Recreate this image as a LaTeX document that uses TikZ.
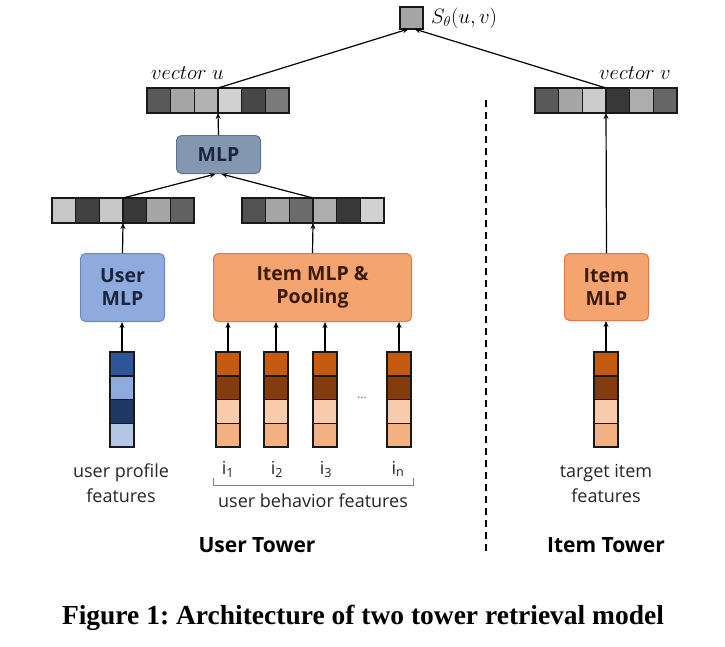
\documentclass[tikz,border=0pt]{standalone}
\usepackage[no-math]{fontspec}
\setmainfont{Open Sans}
\newfontfamily\capfont{Liberation Serif}
\usetikzlibrary{arrows.meta,calc}
\definecolor{ublue}{HTML}{8FAADC}
\definecolor{ubluedraw}{HTML}{6A88C6}
\definecolor{mlpfill}{HTML}{8497B0}
\definecolor{mlpdraw}{HTML}{62738C}
\definecolor{orfill}{HTML}{F4A46E}
\definecolor{ordraw}{HTML}{E4764A}
\definecolor{navytext}{HTML}{1B2440}
\definecolor{browntext}{HTML}{3A1A08}
\definecolor{cb1}{HTML}{2F5597}
\definecolor{cb2}{HTML}{8FAADC}
\definecolor{cb3}{HTML}{203864}
\definecolor{cb4}{HTML}{B4C7E7}
\definecolor{co1}{HTML}{C55A11}
\definecolor{co2}{HTML}{843C0C}
\definecolor{co3}{HTML}{F8CBAD}
\definecolor{co4}{HTML}{F4B183}
\definecolor{bracketc}{HTML}{D06A3A}
\newcommand{\vecrow}[4]{%
  \foreach \c [count=\i] in {#4} {
    \node[hcell, fill=\c, anchor=north west] (#1\i) at ({#2+(\i-1)*23.67},#3) {};
  }}
\newcommand{\veccol}[4]{%
  \foreach \c [count=\i] in {#4} {
    \node[vcell, fill=\c, anchor=north west] (#1\i) at (#2,{#3+(\i-1)*23.75}) {};
  }}
\tikzset{
  hcell/.style={draw=black!90, line width=1.5pt, minimum width=23.67pt, minimum height=25pt, inner sep=0pt, outer sep=0pt},
  vcell/.style={draw=black!90, line width=1.5pt, minimum width=24pt, minimum height=23.75pt, inner sep=0pt, outer sep=0pt},
  conn/.style={-{Stealth[length=6pt,width=5pt]}, line width=1.2pt, black},
  bluebox/.style={rounded corners=5pt, fill=ublue, draw=ubluedraw, line width=1pt, text=navytext, font=\fontsize{19.5}{23}\selectfont\bfseries, align=center, inner sep=0pt},
  mlpbox/.style={rounded corners=5pt, fill=mlpfill, draw=mlpdraw, line width=1pt, text=navytext, font=\fontsize{19.5}{23}\selectfont\bfseries, align=center, inner sep=0pt},
  orbox/.style={rounded corners=5pt, fill=orfill, draw=ordraw, line width=1pt, text=browntext, font=\fontsize{19.5}{23}\selectfont\bfseries, align=center, inner sep=0pt},
  lbl/.style={font=\fontsize{18}{25}\selectfont, align=center, text=black!85, inner sep=0pt},
  tower/.style={font=\fontsize{21}{24}\selectfont\bfseries, inner sep=0pt},
  mathlbl/.style={font=\fontsize{21}{24}\selectfont, inner sep=0pt}
}
\begin{document}
\begin{tikzpicture}[x=1pt,y=-1pt]
\useasboundingbox (0,0) rectangle (725,646);
\fill[white] (0,0) rectangle (725,646);

% score
\node[hcell, fill=black!35, minimum width=23pt, minimum height=22pt, anchor=north west] (S) at (400,7) {};
\node[mathlbl, anchor=west] (Slbl) at (431,18) {$S_\theta(u,v)$};

% vectors u and v
\vecrow{vu}{147}{88}{black!65,black!35,black!30,black!18,black!72,black!52}
\vecrow{vv}{535}{88}{black!65,black!35,black!20,black!78,black!32,black!60}
\node[mathlbl, anchor=south west] (vulbl) at (151,80) {$vector\ u$};
\node[mathlbl, anchor=south west] (vvlbl) at (599,80) {$vector\ v$};

% MLP
\node[mlpbox, minimum width=84pt, minimum height=38pt, anchor=north west] (MLP) at (176,135) {MLP};

% middle vectors
\vecrow{lm}{52}{198}{black!22,black!75,black!22,black!78,black!35,black!62}
\vecrow{rm}{242}{198}{black!68,black!35,black!58,black!32,black!78,black!18}

% user MLP / item MLP & pooling
\node[bluebox, minimum width=84pt, minimum height=68pt, anchor=north west] (UM) at (80,253) {User\\MLP};
\node[orbox, minimum width=198pt, minimum height=68pt, anchor=north west] (IMP) at (213,253) {Item MLP \&\\Pooling};
\node[orbox, minimum width=84pt, minimum height=67pt, anchor=north west] (IM) at (564,253) {Item\\MLP};

% feature columns
\veccol{up}{110}{352}{cb1,cb2,cb3,cb4}
\veccol{ia}{216}{352}{co1,co2,co3,co4}
\veccol{ib}{264}{352}{co1,co2,co3,co4}
\veccol{ic}{313}{352}{co1,co2,co3,co4}
\veccol{in}{387}{352}{co1,co2,co3,co4}
\veccol{tg}{594}{352}{co1,co2,co3,co4}
\node[font=\fontsize{12}{14}\selectfont, text=black!60, inner sep=0pt] (dots) at (362,398) {...};

% labels
\node[lbl] (upl) at (121,483) {user profile\\features};
\node[lbl] (tgl) at (606,483) {target item\\features};
\node[lbl, anchor=base] (l1) at (228,474) {i\textsubscript{1}};
\node[lbl, anchor=base] (l2) at (277,474) {i\textsubscript{2}};
\node[lbl, anchor=base] (l3) at (326,474) {i\textsubscript{3}};
\node[lbl, anchor=base] (ln) at (398,474) {i\textsubscript{n}};
\coordinate (bl) at (213,478);
\coordinate (br) at (413,478);
\draw[bracketc, line width=1pt] (bl) -- ++(0,7) -| (br);
\node[lbl] (ubf) at (313,501) {user behavior features};
\node[tower] (ut) at (257,545) {User Tower};
\node[tower] (it) at (606,545) {Item Tower};

% dashed separator
\coordinate (d1) at (486,100);
\coordinate (d2) at (486,555);
\draw[line width=1.5pt, dash pattern=on 7pt off 5pt] (d1) -- (d2);

% connectors
\draw[conn] (vu3.north east) -- ([xshift=-3pt]S.south);
\draw[conn] (vv3.north east) -- ([xshift=3pt]S.south);
\draw[conn] (MLP.north) -- (vu3.south east);
\draw[conn] (lm3.north east) -- ([xshift=-3pt]MLP.south);
\draw[conn] (rm3.north east) -- ([xshift=3pt]MLP.south);
\draw[conn] (UM.north) -- (lm3.south east);
\draw[conn] (IMP.north) -- (rm3.south east);
\draw[conn] (IM.north) -- (vv3.south east);
\draw[conn] (up1.north) -- (up1.north |- UM.south);
\draw[conn] (ia1.north) -- (ia1.north |- IMP.south);
\draw[conn] (ib1.north) -- (ib1.north |- IMP.south);
\draw[conn] (ic1.north) -- (ic1.north |- IMP.south);
\draw[conn] (in1.north) -- (in1.north |- IMP.south);
\draw[conn] (tg1.north) -- (tg1.north |- IM.south);

% caption
\node[font=\capfont\bfseries\fontsize{27.5}{30}\selectfont, inner sep=0pt] (cap) at (363,618) {\frenchspacing Figure 1: Architecture of two tower retrieval model};
\end{tikzpicture}
\end{document}
